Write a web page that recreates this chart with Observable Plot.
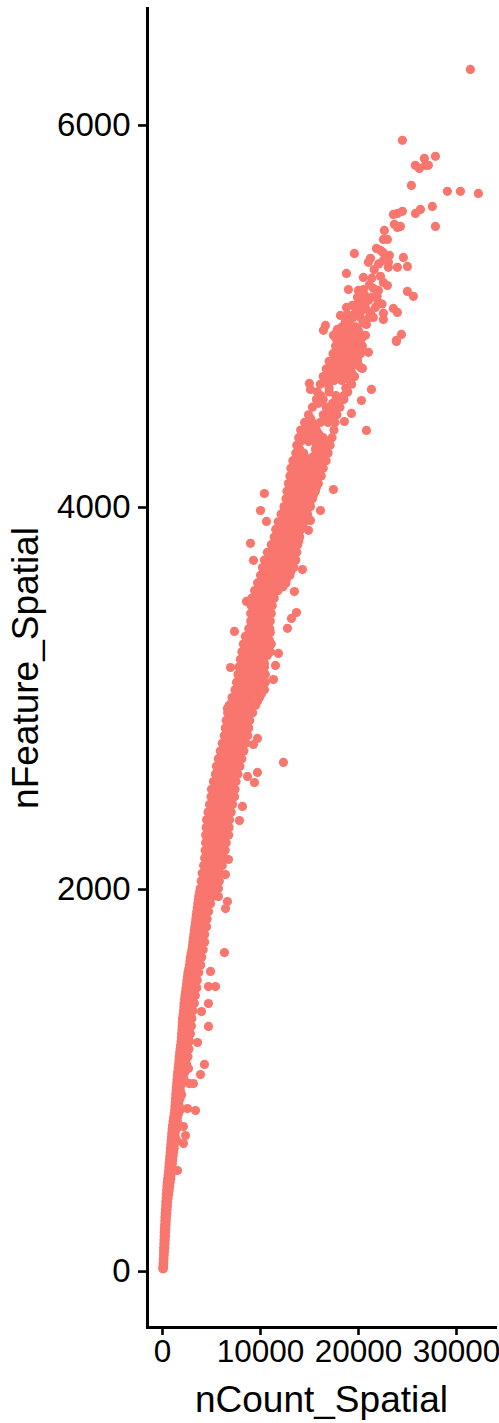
<!DOCTYPE html>
<html>
<head>
<meta charset="utf-8">
<script src="https://cdn.jsdelivr.net/npm/d3@7"></script>
<script src="https://cdn.jsdelivr.net/npm/@observablehq/plot@0.6"></script>
<style>html,body{margin:0;padding:0;background:#fff}svg{display:block}</style>
</head>
<body>
<div id="chart"></div>
<script>
const xTicks = [0, 10000, 20000, 30000];
const yTicks = [0, 2000, 4000, 6000];
const xTitle = "nCount_Spatial";
const yTitle = "nFeature_Spatial";

// each row: nFeature, then the nCount values read at that height
const stemRows = [
[10,30,90],[40,60,130],[80,110,170],[120,120,230],[160,150,280],[200,180,310],[240,220,360],[280,250,400],
[320,300,470],[360,340,530],[400,400,620],[440,450,730],[480,520,840],[520,620,900],[560,680,1000],[600,750,1080],
[640,820,1190],[680,880,1230,1480],[720,950,1280],[760,1030,1400,1600],[800,1130,1500],[840,1250,1600,1800],
[880,1300,1650],[920,1350,1700,1950],[960,1420,1800],[1000,1480,1850,2200],[1040,1550,1950,2300],[1080,1650,2000,2450],
[1120,1700,2100,2600],[1160,1800,2200,2700],[1200,1900,2300,2750],[1240,1950,2400,2850],[1280,2000,2450,2950],
[1320,2050,2550,3000],[1360,2150,2650,3100],[1400,2200,2750,3250],[1440,2300,2800,3350],[1480,2400,2900,3500],
[1520,2500,3000,3550],[1560,2600,3150,3700],[1600,2750,3300,3900],[1640,2850,3400,4000],[1680,3000,3500,4150],
[1720,3100,3600,4300],[1760,3200,3750,4300],[1800,3300,3850,4500],[1840,3400,3950,4550],[1880,3500,4100,4700],
[1920,3600,4250,4900],[1960,3700,4300,5200]
];
const stemFillRows = [
[20,50,110],[60,90,150],[100,110,200],[140,140,250],[180,170,300],[220,200,330],[260,240,380],[300,280,430],
[340,330,500],[380,370,570],[420,430,680],[460,490,780],[500,570,870],[540,650,950],[580,720,1040],[620,790,1130],
[660,850,1060,1210],[700,920,1120,1300],[740,990,1220,1420],[780,1080,1310,1520],[820,1190,1420,1620],[860,1270,1480,1720],
[900,1330,1530,1780],[940,1390,1610,1830],[980,1450,1680,2000],[1020,1520,1750,2110],[1060,1600,1820,2230],[1100,1680,1890,2320],
[1140,1750,2000,2400],[1180,1850,2100,2500],[1220,1930,2180,2610],[1260,1980,2230,2680],[1300,2030,2300,2770],
[1340,2100,2400,2830],[1380,2180,2480,2950],[1420,2250,2530,3050],[1460,2350,2620,3150],[1500,2450,2730,3250],
[1540,2550,2830,3330],[1580,2680,2950,3480],[1620,2800,3100,3650],[1660,2920,3250,3780],[1700,3050,3330,3850],
[1740,3150,3450,3980],[1780,3250,3550,4050],[1820,3350,3680,4250],[1860,3450,3780,4330],[1900,3550,3880,4450],
[1940,3650,3980,4600],[1980,3780,4080,4750]
];
const middleRows = [
[2000,3850,4450,5100,5700],[2040,3950,4550,5250,5800],[2080,4050,4650,5300,5850],[2120,4200,4800,5450,6100],
[2160,4300,4950,5600,6300],[2200,4350,5000,5700,6400],[2240,4400,5100,5800,6500],[2280,4400,5200,5950,6750],
[2320,4450,5300,6050,6800],[2360,4500,5350,6100,6850],[2400,4650,5400,6250,7000],[2440,4800,5500,6350,7150],
[2480,4950,5600,6400,7350],[2520,5000,5750,6500,7400],[2560,5200,5900,6600,7500],[2600,5400,6100,6850,7700],
[2640,5500,6200,7000,7900],[2680,5700,6400,7200,8100],[2720,5900,6600,7400,8300],[2760,6100,6800,7550,8500],
[2800,6300,7000,7700,8700],[2840,6400,7100,7900,8800],[2880,6500,7250,8000,8900],[2920,6650,7400,8200,9200],
[2960,6800,7600,8400,9500],[3000,7100,7800,8700,9900],[3040,7400,8100,8900,9800,10400],[3080,7550,8300,9100,10000,10500],
[3120,7700,8400,9200,10000,10500],[3160,7800,8500,9300,10100,10400],[3200,7950,8700,9400,10200],
[3240,8100,8900,9600,10500,11000],[3280,8250,9000,9700,10600,11100],[3320,8450,9150,9900,10700],
[3360,8800,9500,10200,10950],[3400,9000,9600,10300,11000],[3440,9000,9700,10400,11100],[3480,9050,9800,10500,11200]
];
const middleFillRows = [
[2020,4150,4800,5450],[2060,4250,4950,5550],[2100,4380,5020,5700],[2140,4550,5200,5850],
[2180,4650,5300,5980],[2220,4700,5400,6100],[2260,4750,5500,6200],[2300,4800,5600,6400],
[2340,4900,5700,6450],[2380,5000,5750,6550],[2420,5100,5850,6700],[2460,5150,5950,6800],
[2500,5300,6000,6900],[2540,5450,6200,6950],[2580,5600,6300,7100],[2620,5750,6500,7300],
[2660,5850,6600,7550],[2700,6050,6800,7650],[2740,6250,7000,7850],[2780,6450,7200,8050],
[2820,6650,7400,8250],[2860,6750,7500,8400],[2900,6850,7650,8550],[2940,7050,7800,8800],
[2980,7200,8000,9000,9700],[3020,7500,8250,9200,10100],[3060,7750,8500,9400,10200],[3100,7900,8650,9500,10300],
[3140,8050,8800,9600,10300],[3180,8150,8950,9700,10400],[3220,8400,9200,9900,10700],
[3260,8500,9300,10100,10800],[3300,8650,9400,10200,10900],[3340,8850,9550,10300,11000],
[3380,9100,9800,10600],[3420,9300,10000,10700],[3460,9350,10100,10800],[3500,9450,10200,10950]
];
const upperRows = [
[3520,9100,9900,10700,11400],[3560,9400,10100,10900,11800],[3600,9700,10400,11200,12000,12600],
[3640,10000,10700,11500,12300,13000],[3680,10200,11000,11800,12600,13400],[3720,10400,11200,12000,12800,13600],
[3760,10700,11500,12300,13000,13700],[3800,11100,11800,12500,13200,13800],[3840,11400,12100,12800,13500,14000],
[3880,11550,12300,13000,13700,14100],[3920,11800,12600,13300,14000,14500],[3960,12100,12800,13500,14200,14800],
[4000,12400,13000,13700,14400,15100],[4040,12600,13300,14000,14700,15300],[4080,12700,13400,14100,14900,15600],
[4120,12850,13600,14300,15100,15900],[4160,13000,13800,14500,15400,16200],[4200,13100,13900,14700,15600,16400],
[4240,13300,14100,14900,15800,16700],[4280,13600,14400,16000,16900],[4320,13700,15700,16200,17100],
[4360,13900,14700,15500,16400,17300],[4400,14100,14900,15700,17500],[4440,14500,15300,16100,16900,17600],
[4480,14900,16400,17200,17800],[4520,15300,16700,17500,18100],[4560,15700,16400,17700,18500],
[4600,15800,18900,17000],[4640,16100,16900,19300],[4680,16400,17100,17900,18700,19600],
[4720,16700,17500,18200,19000],[4760,17000,17800,18500,19300,19900],[4800,17400,18100,18800,19500,20200],
[4840,17650,18300,19000,19700,20400],[4880,17700,18400,19100,19800,20300],[4920,17800,18600,19300,20000]
];
const upperFillRows = [
[3540,9750,10500,11300],[3580,10050,10750,11600,12300],[3620,10350,11100,11900,12650],
[3660,10600,11400,12200,13100],[3700,10800,11600,12400,13200],[3740,11050,11800,12600,13350],
[3780,11450,12150,12900,13500],[3820,11750,12450,13150,13900],[3860,11950,12650,13350,13900],
[3900,12200,12950,13650,14300],[3940,12450,13150,13850,14600],[3980,12450,13150,13900,14750],
[4020,12950,13650,14350,15000],[4060,13000,13700,14500,15400],[4100,13200,13950,14700,15700],
[4140,13400,14200,14950,15700],[4180,13450,14300,15050,15950],[4220,13600,14400,15250,16100],
[4260,13700,14500,15350,16350],[4300,14000,15600,16450],[4340,14100,14900,15750,16700],
[4380,14300,15100,15950],[4420,14700,15500],[4460,15100,16650,17350],
[4500,16850,17600],[4540,15900,17350,18000],[4580,16150,17700,18500],
[4620,18700,17000],[4660,16750,17500,18300,19100],[4700,17000,17800,18600,19300],
[4740,17300,18100,18850,19500],[4780,17750,18450,19150,19900],[4820,18000,18700,19350,20100],
[4860,18050,18700,19400,20000],[4900,18150,18900,19650],[4940,18300,19000,19700]
];
// single spots that stand clear of the band: [nCount, nFeature]
const crownSpots = [
[31416,6288],[24480,5917],[27850,5833],[26720,5822],[25800,5786],[26210,5770],[27130,5786],[26830,5786],[25400,5681],
[29070,5650],[30400,5650],[32230,5639],[27540,5571],[26320,5555],[25810,5534],[27850,5466],[24480,5545],[23970,5534],
[23560,5529],[23660,5477],[24280,5466],[23970,5461],[22640,5445],[22950,5398],[22540,5398],[21830,5351],[22240,5341],
[19580,5325],[23150,5315],[24580,5304],[21220,5299],[21010,5278],[22540,5288],[23050,5278],[23050,5252],[23970,5252],
[24990,5257],[18770,5220],[20500,5199],[22240,5205],[22540,5173],[22950,5157],[18970,5136],[22030,5131],[19990,5131],
[20500,5136],[21520,5142],[24990,5126],[25600,5100],[21320,5095],[19890,5095],[18770,5042],[19380,5053],[20090,5068],
[20710,5042],[21730,5042],[22030,5068],[23560,5037],[23970,5016],[22540,5011],[22540,4979],[21520,4990],[19690,5016],
[20200,4990],[20810,4953],[16630,4948],[16420,4922],[18670,4969],[18970,4969],[17850,4927],[19180,4938],[19890,4922],
[20710,4896],[24380,4901],[23870,4870],[17440,4896],[18460,4906],[19180,4896],[18160,5000],[18870,5005],[19380,4985],
[20200,5026],[21010,5079],[20400,5079],[21220,5016],[20600,5110],[21100,5160],[21900,5100],[22400,5060],[21350,5195],
[21600,5240],[22050,5270],[22500,5330],[20500,5030],[21100,4990],[20450,4960],[19900,5060],[20300,5110]
];
const straySpots = [
[12340,2660],[9690,2608],[8670,2587],[9380,2555],[8160,2430],[7850,2356],[6730,2152],[6430,2073],[6630,1932],[6430,1895],
[5710,1958],[6320,1665],[11320,3094],[11530,3168],[11830,3231],[12750,3362],[7340,3346],[6940,3157],[9690,2786],[9280,2754],
[6630,2943],[20810,4398],[19280,4487],[18560,4445],[21320,4613],[20300,4555],[17440,4089],[16120,3979],[14890,3875],
[15100,3927],[10400,4068],[10000,3979],[10610,3922],[8980,3807],[9280,3718],[14280,3670],[13460,3555],[13670,3445],
[13160,3414],[8570,3503],[14990,4644],[15100,4613],[23870,4864],[21010,4807],[20400,4723],[20200,4728],[4690,1278],
[5410,1487],[4690,1487],[4900,1566],[4690,1398],[3980,1356],[3570,1194],[4280,1079],[3880,1026],[2650,1058],[3160,979],
[2750,979],[3370,838],[2550,848],[2350,707],[2140,665],[1530,524],[2140,754]
];

const fromRows = rows => rows.flatMap(([f, ...counts]) => counts.map(c => [c, f]));
const spots = [stemRows, stemFillRows, middleRows, middleFillRows, upperRows, upperFillRows].flatMap(fromRows).concat(crownSpots, straySpots);

const chart = Plot.plot({
  width: 499, height: 1423,
  marginLeft: 147, marginRight: 4, marginTop: 8, marginBottom: 96,
  style: {fontFamily: "'Liberation Sans', Arial, sans-serif", background: "#fff", color: "#000", overflow: "visible"},
  x: {domain: [-1530, 33980]},
  y: {domain: [-298, 6607]},
  marks: [
    Plot.dot(spots, {x: d => d[0], y: d => d[1], r: 4.6, fill: "#F8766D", fillOpacity: 1, stroke: "none"}),
    Plot.frame({anchor: "left", stroke: "#000", strokeWidth: 3, strokeOpacity: 1}),
    Plot.frame({anchor: "bottom", stroke: "#000", strokeWidth: 3, strokeOpacity: 1}),
    Plot.axisX({ticks: xTicks, tickSize: 8, tickPadding: 4, strokeWidth: 2.6, strokeOpacity: 1, fontSize: 31.5, tickFormat: d => String(d),
      label: xTitle, labelAnchor: "center", labelArrow: "none", labelOffset: 84, color: "#000"}),
    Plot.axisY({ticks: yTicks, tickSize: 9, tickPadding: 8, strokeWidth: 2.6, strokeOpacity: 1, fontSize: 33, tickFormat: d => String(d), dy: 1,
      label: yTitle, labelAnchor: "center", labelArrow: "none", labelOffset: 136, color: "#000"})
  ]
});
document.getElementById("chart").append(chart);
chart.querySelectorAll('[aria-label="x-axis label"] text, [aria-label="y-axis label"] text').forEach(t => t.setAttribute("font-size", 37));
</script>
</body>
</html>
